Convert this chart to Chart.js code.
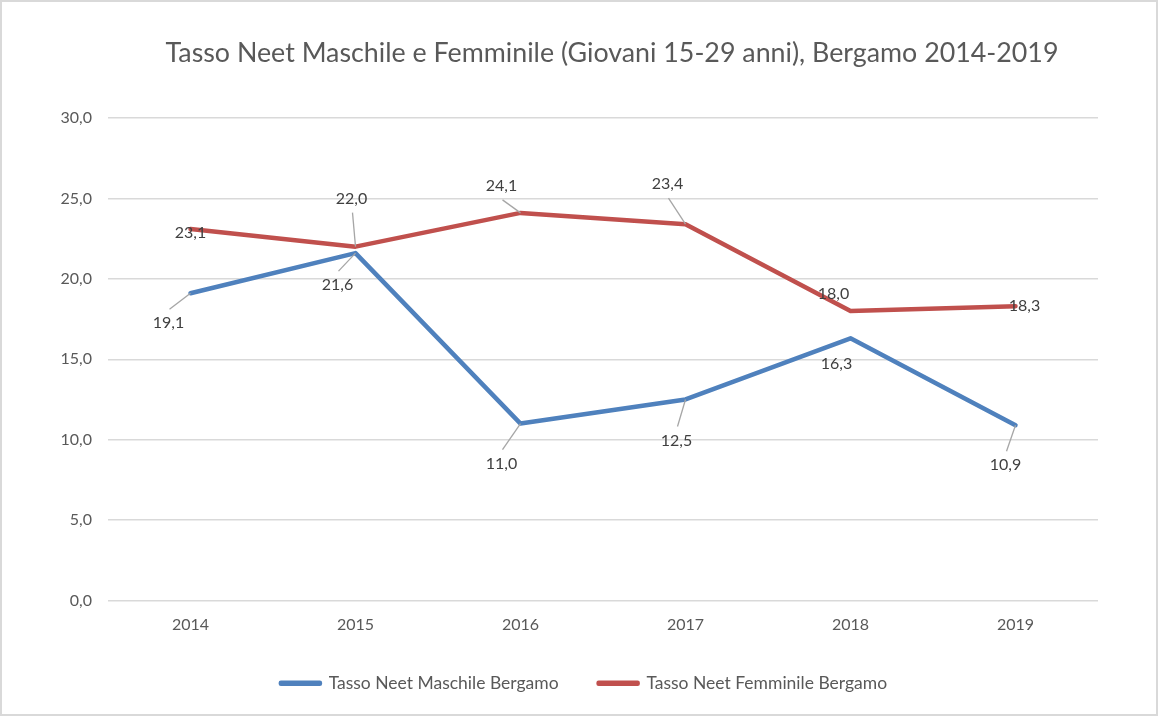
<!DOCTYPE html>
<html lang="it">
  <head>
    <meta charset="UTF-8" />
    <title>Tasso Neet Bergamo</title>
    <script src="https://cdn.jsdelivr.net/npm/chart.js"></script>
    <style>
      html, body { margin: 0; padding: 0; background: #fff; }
      .wrap {
        width: 1158px;
        height: 716px;
        box-sizing: border-box;
        border: 2px solid #d9d9d9;
        position: relative;
      }
    </style>
  </head>
  <body>
    <div class="wrap">
      <canvas id="neetChart"></canvas>
    </div>

    <script>
      var titolo = "Tasso Neet Maschile e Femminile (Giovani 15-29 anni), Bergamo 2014-2019";
      var anni = ["2014", "2015", "2016", "2017", "2018", "2019"];
      var maschile = [19.1, 21.6, 11.0, 12.5, 16.3, 10.9];
      var femminile = [23.1, 22.0, 24.1, 23.4, 18.0, 18.3];
      var yTicks = [0, 5, 10, 15, 20, 25, 30];

      var FONT = "Lato, 'Open Sans', sans-serif";

      function virgola(v, dec) {
        return v.toFixed(dec).replace(".", ",");
      }

      // label placement around each point: [dx, dy, leader line?]
      var posMaschile = [[-22, 30, true], [-18, 32, true], [-19, 40, true], [-9, 41, true], [-14, 26, false], [-10, 40, true]];
      var posFemminile = [[0, 4, false], [-4, -48, true], [-19, -27, true], [-18, -40, true], [-17, -17, false], [9, 0, false]];

      // title sits a bit right of the legend in the original, so draw it here
      var titoloPlugin = {
        id: "titolo",
        afterDraw: function (chart) {
          var c = chart.ctx;
          c.save();
          c.font = "26.8px " + FONT;
          c.fillStyle = "#595959";
          c.textAlign = "center";
          c.textBaseline = "middle";
          c.fillText(titolo, 610, 51);
          c.restore();
        },
      };

      var etichette = {
        id: "etichette",
        afterDatasetsDraw: function (chart) {
          var c = chart.ctx;
          c.save();
          c.font = "16px " + FONT;
          c.textAlign = "center";
          c.textBaseline = "middle";
          chart.data.datasets.forEach(function (ds, di) {
            var meta = chart.getDatasetMeta(di);
            var pos = di === 0 ? posMaschile : posFemminile;
            meta.data.forEach(function (pt, i) {
              var p = pos[i];
              var lx = pt.x + p[0];
              var ly = pt.y + p[1];
              if (p[2]) {
                var ey = ly - (p[1] > 0 ? 14 : -14);
                c.strokeStyle = "#a6a6a6";
                c.lineWidth = 1.3;
                c.beginPath();
                c.moveTo(pt.x, pt.y);
                c.lineTo(lx + 1, ey);
                c.stroke();
              }
              c.fillStyle = "#404040";
              c.fillText(virgola(ds.data[i], 1), lx, ly);
            });
          });
          c.restore();
        },
      };

      var ctx = document.getElementById("neetChart").getContext("2d");
      var neetChart = new Chart(ctx, {
        type: "line",
        data: {
          labels: anni,
          datasets: [
            {
              label: "Tasso Neet Maschile Bergamo",
              data: maschile,
              borderColor: "#4f81bd",
              backgroundColor: "#4f81bd",
              borderWidth: 4.5,
              pointRadius: 0,
              borderJoinStyle: "round",
              borderCapStyle: "round",
              tension: 0,
            },
            {
              label: "Tasso Neet Femminile Bergamo",
              data: femminile,
              borderColor: "#c0504d",
              backgroundColor: "#c0504d",
              borderWidth: 4.5,
              pointRadius: 0,
              borderJoinStyle: "round",
              borderCapStyle: "round",
              tension: 0,
            },
          ],
        },
        options: {
          responsive: true,
          maintainAspectRatio: false,
          animation: false,
          layout: {
            padding: { left: 30, right: 20, top: 116, bottom: 12 },
          },
          plugins: {
            title: { display: false },
            legend: {
              position: "bottom",
              labels: {
                color: "#595959",
                font: { family: FONT, size: 17.5 },
                boxWidth: 39,
                boxHeight: 1,
                padding: 40,
              },
            },
            tooltip: { enabled: false },
          },
          scales: {
            x: {
              offset: true,
              grid: { display: false },
              border: { display: false },
              afterFit: function (scale) {
                scale.height = 34;
              },
              ticks: {
                color: "#595959",
                font: { family: FONT, size: 16 },
                padding: 7,
              },
            },
            y: {
              min: 0,
              max: 30,
              afterBuildTicks: function (scale) {
                scale.ticks = yTicks.map(function (v) {
                  return { value: v };
                });
              },
              afterFit: function (scale) {
                scale.width = 76;
              },
              grid: { color: "#d9d9d9", lineWidth: 1.5, drawTicks: false },
              border: { display: false },
              ticks: {
                color: "#595959",
                font: { family: FONT, size: 16 },
                padding: 16,
                callback: function (value) {
                  return virgola(value, 1);
                },
              },
            },
            // empty strip on the right so the plot ends where the original does
            yDestra: {
              position: "right",
              min: 0,
              max: 30,
              grid: { display: false },
              border: { display: false },
              ticks: { display: false },
              afterFit: function (scale) {
                scale.width = 38;
              },
            },
          },
        },
        plugins: [etichette, titoloPlugin],
      });
    </script>
  </body>
</html>
